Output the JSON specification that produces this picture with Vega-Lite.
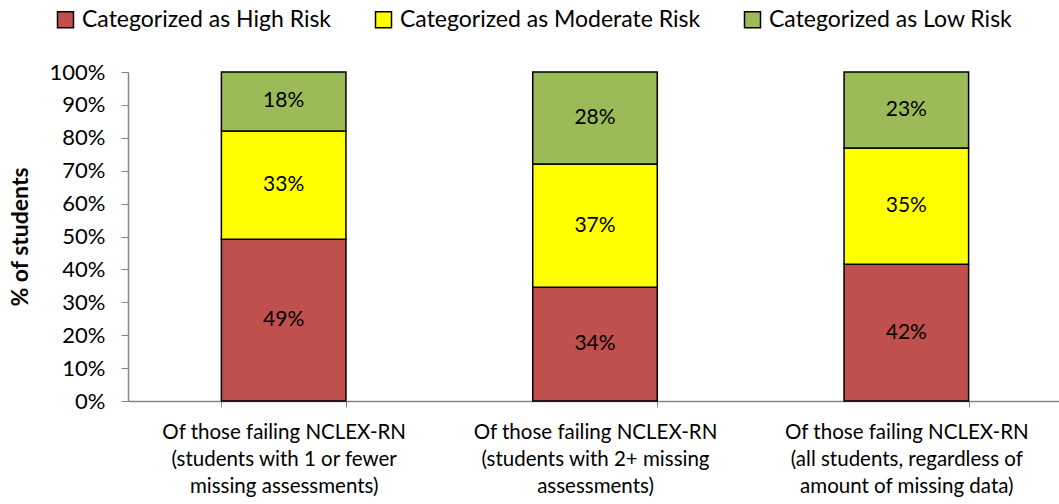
{
  "$schema": "https://vega.github.io/schema/vega-lite/v6.json",
  "autosize": "none",
  "width": 934,
  "height": 329,
  "padding": {"left": 128, "top": 72, "right": 0, "bottom": 103},
  "background": "white",
  "config": {
    "font": "Lato",
    "view": {"stroke": null},
    "axis": {"labelFont": "Lato", "titleFont": "Lato", "grid": false},
    "axisY": {
      "titleFontSize": 23,
      "titleFontWeight": "bold",
      "titleColor": "black",
      "titlePadding": 17,
      "labelOverlap": false,
      "labelFontSize": 22,
      "labelColor": "black",
      "labelPadding": 16,
      "tickSize": 7,
      "tickColor": "#868686",
      "domainColor": "#868686",
      "domainWidth": 1.5
    }
  },
  "data": {
    "values": [
      {"group": "Of those failing NCLEX-RN|(students with 1 or fewer|missing assessments)", "g": 1, "risk": "Categorized as High Risk", "ord": 1, "value": 49.2, "label": "49%"},
      {"group": "Of those failing NCLEX-RN|(students with 1 or fewer|missing assessments)", "g": 1, "risk": "Categorized as Moderate Risk", "ord": 2, "value": 32.9, "label": "33%"},
      {"group": "Of those failing NCLEX-RN|(students with 1 or fewer|missing assessments)", "g": 1, "risk": "Categorized as Low Risk", "ord": 3, "value": 17.9, "label": "18%"},
      {"group": "Of those failing NCLEX-RN|(students with 2+ missing|assessments)", "g": 2, "risk": "Categorized as High Risk", "ord": 1, "value": 34.6, "label": "34%"},
      {"group": "Of those failing NCLEX-RN|(students with 2+ missing|assessments)", "g": 2, "risk": "Categorized as Moderate Risk", "ord": 2, "value": 37.4, "label": "37%"},
      {"group": "Of those failing NCLEX-RN|(students with 2+ missing|assessments)", "g": 2, "risk": "Categorized as Low Risk", "ord": 3, "value": 28.0, "label": "28%"},
      {"group": "Of those failing NCLEX-RN|(all students, regardless of|amount of missing data)", "g": 3, "risk": "Categorized as High Risk", "ord": 1, "value": 41.6, "label": "42%"},
      {"group": "Of those failing NCLEX-RN|(all students, regardless of|amount of missing data)", "g": 3, "risk": "Categorized as Moderate Risk", "ord": 2, "value": 35.3, "label": "35%"},
      {"group": "Of those failing NCLEX-RN|(all students, regardless of|amount of missing data)", "g": 3, "risk": "Categorized as Low Risk", "ord": 3, "value": 23.1, "label": "23%"}
    ]
  },
  "transform": [
    {"stack": "value", "groupby": ["group"], "sort": [{"field": "ord", "order": "ascending"}], "as": ["y0", "y1"]},
    {"calculate": "(datum.y0 + datum.y1) / 2", "as": "ymid"}
  ],
  "encoding": {
    "x": {
      "field": "group",
      "type": "nominal",
      "sort": {"field": "g"},
      "scale": {"paddingInner": 0.6, "paddingOuter": 0.3},
      "axis": {
        "title": null,
        "labelAngle": 0,
        "labelExpr": "split(datum.label, '|')",
        "labelFontSize": 20.5,
        "labelLineHeight": 27,
        "labelColor": "black",
        "labelPadding": 15,
        "labelLimit": 0,
        "tickBand": "extent",
        "tickSize": 6,
        "tickColor": "#868686",
        "domainColor": "#868686",
        "domainWidth": 1.5,
        "labelBaseline": "top"
      }
    }
  },
  "layer": [
    {
      "mark": {"type": "bar", "stroke": "black", "strokeWidth": 1.5},
      "encoding": {
        "y": {
          "field": "y0",
          "type": "quantitative",
          "scale": {"domain": [0, 100], "nice": false},
          "axis": {
            "title": "% of students",
            "values": [0, 10, 20, 30, 40, 50, 60, 70, 80, 90, 100],
            "labelExpr": "datum.value + '%'"
          }
        },
        "y2": {"field": "y1"},
        "color": {
          "field": "risk",
          "type": "nominal",
          "scale": {
            "domain": ["Categorized as High Risk", "Categorized as Moderate Risk", "Categorized as Low Risk"],
            "range": ["#C0504D", "#FFFF00", "#9BBB59"]
          },
          "legend": {
            "title": null,
            "orient": "none",
            "direction": "horizontal",
            "legendX": -74,
            "legendY": -64,
            "symbolType": "square",
            "symbolSize": 256,
            "symbolStrokeColor": "black",
            "symbolStrokeWidth": 1.5,
            "labelFontSize": 23,
            "labelColor": "black",
            "labelFont": "Lato",
            "labelLimit": 0,
            "labelOffset": 5,
            "columnPadding": 40
          }
        }
      }
    },
    {
      "mark": {"type": "text", "fontSize": 21, "color": "black", "font": "Lato"},
      "encoding": {
        "y": {
          "field": "ymid",
          "type": "quantitative",
          "axis": {
            "title": "% of students",
            "values": [0, 10, 20, 30, 40, 50, 60, 70, 80, 90, 100],
            "labelExpr": "datum.value + '%'"
          }
        },
        "text": {"field": "label"}
      }
    }
  ]
}
